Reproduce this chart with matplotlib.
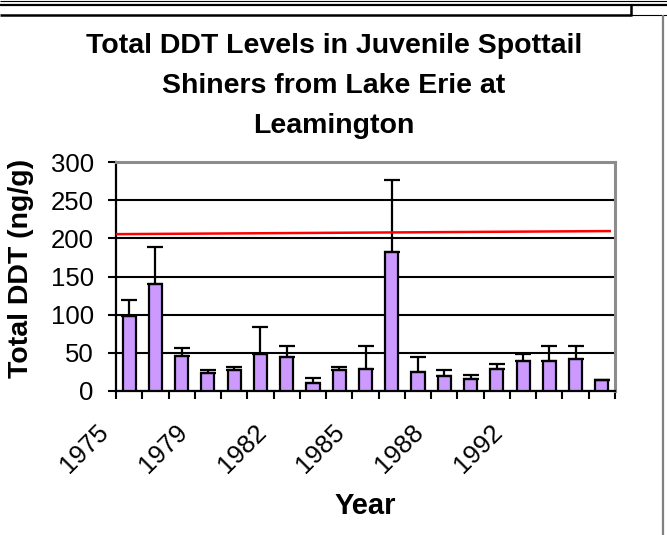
import numpy as np
import matplotlib
matplotlib.use("Agg")
import matplotlib.pyplot as plt
from matplotlib.lines import Line2D
from matplotlib.transforms import ScaledTranslation

years = ["1975", "1977", "1978", "1979", "1980", "1981", "1982", "1983", "1984", "1985",
         "1986", "1987", "1988", "1989", "1990", "1992", "1993", "1994", "1995"]
ddt = [98, 140, 46, 24, 27.5, 48.5, 45, 11, 27.5, 28.5,
       182, 25, 20, 16, 28.5, 39, 39, 42.5, 14.5]
ddt_err = [21, 48, 10, 3.5, 3.5, 35, 14, 6.5, 3.5, 31,
           94, 20, 8, 4.5, 6.5, 10, 20, 16.5, 0]
guideline = [205.5, 209.5]
shown_years = ["1975", "1979", "1982", "1985", "1988", "1992"]

plt.rcParams['font.family'] = ['Liberation Sans', 'DejaVu Sans']

W, H = 667, 535
fig = plt.figure(figsize=(W / 100, H / 100), dpi=100)
ax = fig.add_axes([116 / W, 1 - 391 / H, (615 - 116) / W, (391 - 162) / H])

x = np.arange(len(years))
ax.bar(x, ddt, width=0.5, color="#CC99FF", edgecolor="black", linewidth=1.6, zorder=3)
ax.errorbar(x, ddt, yerr=[np.zeros(len(ddt)), ddt_err], fmt="none", ecolor="black",
            elinewidth=1.6, capsize=6, capthick=1.6, zorder=4)
ax.plot([-0.45, len(years) - 0.7], guideline, color="red", linewidth=1.8, zorder=5)

ax.set_xlim(-0.5, len(years) - 0.5)
ax.set_ylim(0, 300)
ax.set_yticks(range(0, 301, 50))
ax.yaxis.grid(True, color="black", linewidth=1.5)
ax.set_axisbelow(True)
ax.tick_params(axis="y", direction="out", length=6, width=1.5, labelsize=18.5, pad=10)

# boundaries as major ticks, labels on minor ticks at category centres
ax.set_xticks(np.arange(-0.5, len(years), 1.0))
ax.set_xticklabels([])
ax.tick_params(axis="x", which="major", direction="out", length=6, width=1.5)
idx = [years.index(y) for y in shown_years]
ax.set_xticks(idx, minor=True)
ax.set_xticklabels(shown_years, minor=True, rotation=45, ha="right", va="top", fontsize=18.5)
ax.tick_params(axis="x", which="minor", length=0, pad=21)
for lab in ax.get_xticklabels(minor=True):
    lab.set_transform(lab.get_transform() + ScaledTranslation(-0.16, 0, fig.dpi_scale_trans))

for s in ["left", "bottom"]:
    ax.spines[s].set_color("black")
    ax.spines[s].set_linewidth(1.6)
for s in ["top", "right"]:
    ax.spines[s].set_color("#8c8c8c")
    ax.spines[s].set_linewidth(2.2)

fig.text(21 / W, 1 - 268 / H, "Total DDT (ng/g)", rotation=90, ha="center", va="center",
         fontsize=20.5, fontweight="bold")
fig.text(365 / W, 1 - 514 / H, "Year", ha="center", va="baseline", fontsize=21, fontweight="bold")

title_lines = ["Total DDT Levels in Juvenile Spottail", "Shiners from Lake Erie at", "Leamington"]
for line, base in zip(title_lines, [53, 93, 133]):
    fig.text(334 / W, 1 - base / H, line, ha="center", va="baseline", fontsize=20.5, fontweight="bold")

# frame lines along the top and right edge
def fline(x0, y0, x1, y1, lw, color="black"):
    fig.add_artist(Line2D([x0 / W, x1 / W], [1 - y0 / H, 1 - y1 / H], transform=fig.transFigure,
                          color=color, linewidth=lw, solid_capstyle="butt"))

fline(0, 1, W, 1, 0.8)
fline(0, 5, W, 5, 1.6)
fline(0, 14.5, 631, 14.5, 1.8)
fline(631, 4, 631, 15.5, 1.8)
fline(631, 14.5, W, 14.5, 0.8)
fline(663, 14.5, 663, H, 1.6, "#808080")

fig.savefig("out.png", dpi=100)
